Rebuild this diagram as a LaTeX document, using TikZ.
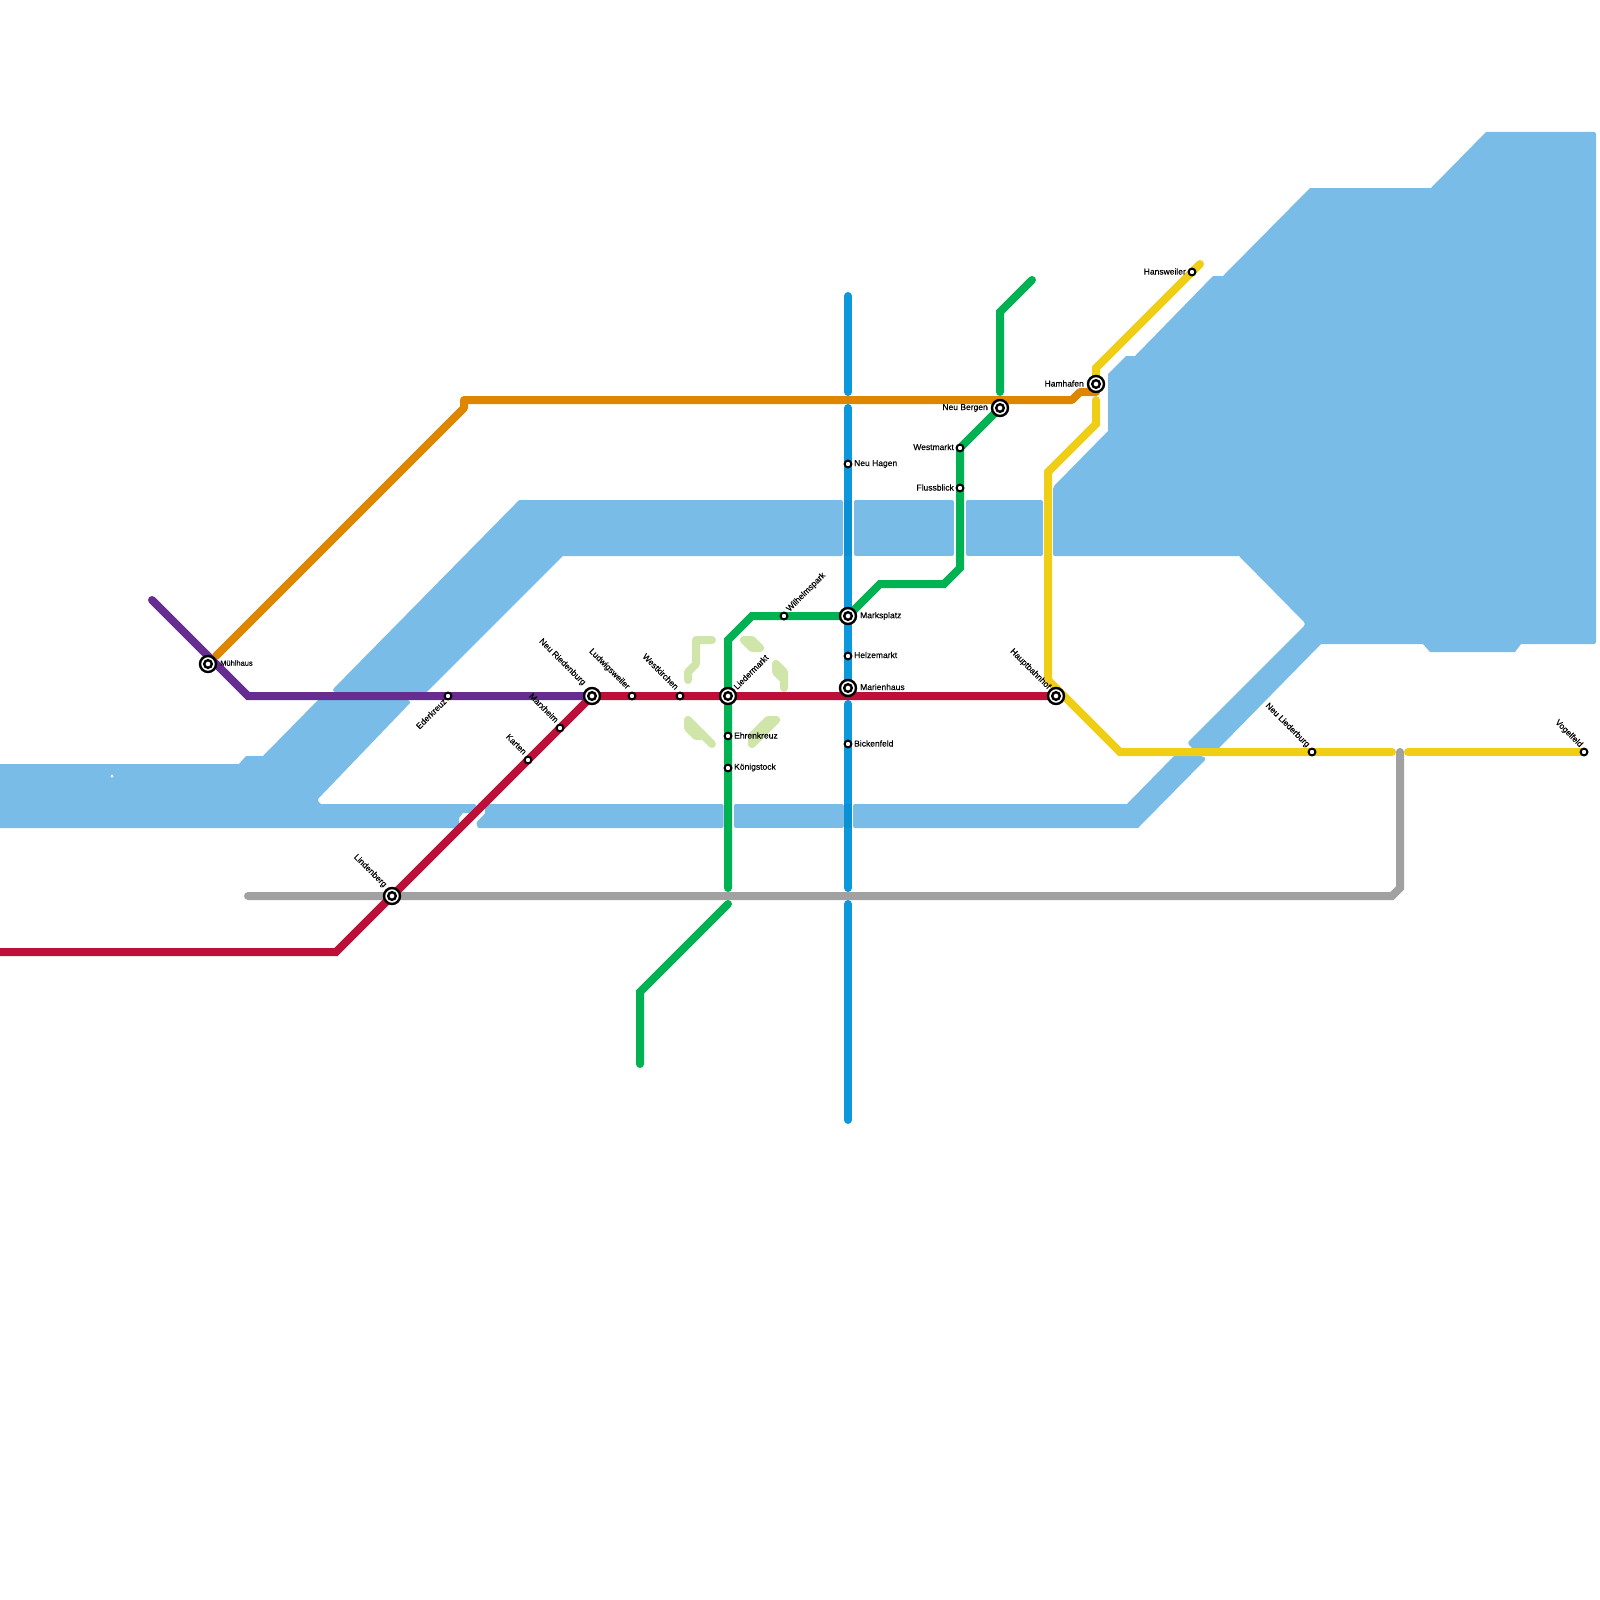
\documentclass[tikz,border=0pt]{standalone}
\usepackage{fontspec}
\setmainfont[FakeBold=0.25]{Liberation Sans}
\definecolor{water}{HTML}{79BCE8}
\definecolor{park}{HTML}{CFE5A9}
\definecolor{lblue}{HTML}{0E98DC}
\definecolor{lbluedeep}{HTML}{0A90D4}
\definecolor{lgreen}{HTML}{00B251}
\definecolor{lred}{HTML}{BC1038}
\definecolor{lpurple}{HTML}{662C90}
\definecolor{lorange}{HTML}{DF8600}
\definecolor{lyellow}{HTML}{F0CE15}
\definecolor{lgrey}{HTML}{A1A1A1}
\tikzset{
 waterbox/.style={fill=water,draw=water,line width=3pt,line join=round},
 parkbody/.style={fill=park,draw=park,line width=8pt,line join=round,line cap=round},
 metro/.style={line width=8pt,line cap=round,line join=miter},
 minor/.style={circle,draw=black,fill=white,line width=2pt,minimum size=6.8pt,inner sep=0pt,outer sep=0pt},
 majorin/.style={circle,draw=black,fill=white,line width=2.4pt,minimum size=7.6pt,inner sep=0pt,outer sep=0pt},
 major/.style={circle,draw=black,fill=white,line width=2.4pt,minimum size=16pt,inner sep=0pt,outer sep=0pt},
 lab/.style={font=\fontsize{8.5}{10}\selectfont,inner sep=0pt,text=black},
 labL/.style={lab,anchor=west},
 labR/.style={lab,anchor=east},
 labUp/.style={lab,anchor=west,rotate=45},
 labDn/.style={lab,anchor=east,rotate=-45,xshift=-2.5pt,yshift=1.5pt},
 labEd/.style={lab,anchor=east,rotate=45},
}
\newcommand{\bigstn}[2]{\node[major] (#1o) at (#2) {};\node[majorin] (#1i) at (#2) {};}
\newcommand{\smallstn}[2]{\node[minor] (#1n) at (#2) {};}
\begin{document}
\begin{tikzpicture}[x=1pt,y=-1pt]
\useasboundingbox (0,0) rectangle (1600,1600);
\clip (0,0) rectangle (1600,1600);
% water
\fill[water] (-5,764) -- (239,764) -- (246,756) -- (263,756) -- (318,700) -- (408,700) [rounded corners=2pt] -- (411,702) -- (317,800) [sharp corners] -- (321,804) -- (475,804) -- (476,806) -- (469,813) -- (463,813) -- (459,818) -- (459,828) -- (-5,828) -- cycle;
\filldraw[water,line width=4pt,line join=round] (335,690) -- (520,502) -- (841,502) -- (841,554) -- (562,554) -- (426,690) -- cycle;
\filldraw[waterbox] (855,501.5) -- (952,501.5) -- (952,554.5) -- (855,554.5) -- cycle;
\filldraw[waterbox] (967,501.5) -- (1041,501.5) -- (1041,554.5) -- (967,554.5) -- cycle;
\filldraw[waterbox] (486.5,805.5) -- (722,805.5) -- (722,826.5) -- (479,826.5) -- (478,823) -- (486.5,814) -- cycle;
\filldraw[waterbox] (735,805.5) -- (842,805.5) -- (842,826.5) -- (735,826.5) -- cycle;
\fill[water] (855,804) [rounded corners=2pt] -- (853,804) -- (853,828) [sharp corners] -- (1138,828) [rounded corners=2pt] -- (1206,759) -- (1203,756) [sharp corners] -- (1174,756) -- (1127,804) -- cycle;
\fill[water] (1486,132) [rounded corners=2pt] -- (1596,132) -- (1596,644) [sharp corners] -- (1521,644) -- (1515,652) -- (1430,652) -- (1423,644) -- (1321,644) -- (1219,748) -- (1192,748) [rounded corners=3pt] -- (1187,743) -- (1306,624) [sharp corners] -- (1239,556) -- (1055,556) [rounded corners=2pt] -- (1053,556) -- (1053,487) [sharp corners] -- (1108,431) -- (1108,374) -- (1126,356) -- (1135,356) -- (1213,276) -- (1223,276) -- (1310,188) -- (1431,188) -- cycle;
\fill[white] (112,776) circle (1.5);
% parks
\draw[park,line width=8pt,line cap=round,line join=round] (712,640) -- (696,640) -- (696,664) -- (688,672) -- (688,680);
\filldraw[parkbody] (744,640) -- (752,640) -- (760,648) -- (752,648) -- cycle;
\filldraw[parkbody] (776,664) -- (784,672) -- (784,688) -- (784,680) -- (776,672) -- cycle;
\filldraw[parkbody] (688,720) -- (712,744) -- (704,736) -- (696,736) -- (688,728) -- cycle;
\filldraw[parkbody] (752,744) -- (752,736) -- (768,720) -- (776,720) -- cycle;
% station positions
\foreach \n/\p in {neuried/{592,696},ludwig/{632,696},westk/{680,696},lieder/{728,696},maerk/{848,616},helze/{848,656},marien/{848,688},bicken/{848,744},ehren/{728,736},koenig/{728,768},wilhelm/{784,616},linden/{392,896},karten/{528,760},marx/{560,728},eder/{448,696},neuhag/{848,464},westm/{960,448},fluss/{960,488},neuberg/{1000,408},hamh/{1096,384},hans/{1192,272},haupt/{1056,696},neulied/{1312,752},vogel/{1584,752},orangeend/{216,656}}{\expandafter\coordinate\expandafter(\n) at (\p);}
% lines
\draw[metro,lgrey] (248,896) -- (linden) -- (1392,896) -- (1400,888) -- (1400,752);
\draw[metro,lorange,line join=round] (orangeend) -- (464,408) -- (464,400) -- (1072,400) -- (1080,392) -- (1096,392);
\draw[metro,lblue] (848,296) -- (848,392);
\draw[metro,lblue] (848,408) -- (neuhag) -- (maerk) -- (helze) -- (marien);
\draw[metro,lblue] (848,704) -- (bicken) -- (848,888);
\draw[metro,lblue] (848,904) -- (848,1120);
\draw[lbluedeep,line width=8pt] (848,500) -- (848,556);
\draw[lbluedeep,line width=8pt] (848,804) -- (848,828);
\draw[metro,lgreen] (728,888) -- (koenig) -- (ehren) -- (lieder) -- (728,640) -- (752,616) -- (wilhelm) -- (maerk) -- (880,584) -- (944,584) -- (960,568) -- (fluss) -- (westm) -- (neuberg);
\draw[metro,lgreen] (1000,392) -- (1000,312) -- (1032,280);
\draw[metro,lgreen] (728,904) -- (640,992) -- (640,1064);
\draw[metro,lpurple] (152,600) -- (248,696) -- (eder) -- (neuried);
\draw[metro,lred] (-10,952) -- (336,952) -- (linden) -- (karten) -- (marx) -- (neuried) -- (ludwig) -- (westk) -- (lieder) -- (haupt);
\draw[metro,lyellow] (1200,264) -- (hans) -- (1096,368) -- (hamh);
\draw[metro,lyellow] (1096,400) -- (1096,424) -- (1048,472) -- (1048,680) -- (1120,752) -- (neulied) -- (1392,752);
\draw[metro,lyellow] (1408,752) -- (vogel);
% stations
\bigstn{s1}{592,696}\bigstn{s2}{728,696}\bigstn{s3}{848,616}\bigstn{s4}{848,688}\bigstn{s5}{208,664}\bigstn{s6}{392,896}\bigstn{s7}{1000,408}\bigstn{s8}{1096,384}\bigstn{s9}{1056,696}
\smallstn{t1}{632,696}\smallstn{t2}{680,696}\smallstn{t3}{848,656}\smallstn{t4}{848,744}\smallstn{t5}{728,736}\smallstn{t6}{728,768}\smallstn{t7}{784,616}\smallstn{t8}{528,760}\smallstn{t9}{560,728}\smallstn{t10}{448,696}\smallstn{t11}{848,464}\smallstn{t12}{960,448}\smallstn{t13}{960,488}\smallstn{t14}{1192,272}\smallstn{t15}{1312,752}\smallstn{t16}{1584,752}
% labels
\node[labL] (l1) at (860,616) {Marksplatz};
\node[labL] (l2) at (854,655) {Helzemarkt};
\node[labL] (l3) at (860,687) {Marienhaus};
\node[labL] (l4) at (854,743.5) {Bickenfeld};
\node[labL] (l5) at (734,735.5) {Ehrenkreuz};
\node[labL] (l6) at (734,767.5) {Königstock};
\node[labL,font=\fontsize{7.5}{9}\selectfont] (l7) at (220,663) {Mühlhaus};
\node[labL] (l8) at (854,464) {Neu Hagen};
\node[labUp] (l9) at (735,688) {Liedermarkt};
\node[labUp] (l10) at (788,610.5) {Wilhelmspark};
\node[labDn] (l11) at (678,691) {Westkirchen};
\node[labDn] (l12) at (629,691) {Ludwigsweiler};
\node[labDn] (l13) at (585,687) {Neu Riedenburg};
\node[labDn] (l14) at (558,724) {Marxheim};
\node[labDn] (l15) at (526,756) {Karten};
\node[labDn] (l16) at (386,889) {Lindenberg};
\node[labDn] (l17) at (1050,691) {Hauptbahnhof};
\node[labDn] (l18) at (1309,749) {Neu Liederburg};
\node[labDn] (l19) at (1582,749) {Vogelfeld};
\node[labEd] (l20) at (445,700) {Ederkreuz};
\node[labR] (l21) at (954,447) {Westmarkt};
\node[labR] (l22) at (954,487.5) {Flussblick};
\node[labR] (l23) at (988,408) {Neu Bergen};
\node[labR] (l24) at (1084,383.5) {Hamhafen};
\node[labR] (l25) at (1186,271.5) {Hansweiler};
\end{tikzpicture}
\end{document}
